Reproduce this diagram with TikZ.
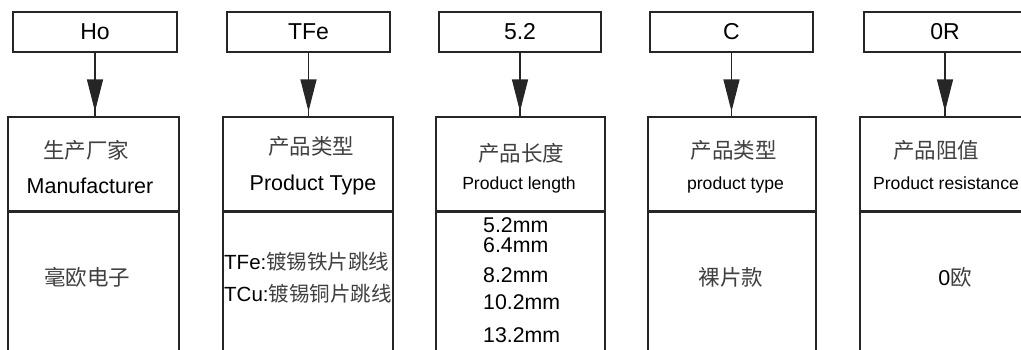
\documentclass[tikz,border=0pt]{standalone}
\usepackage{fontspec}
\setmainfont{Liberation Sans}
\newfontfamily\cjk{Noto Sans CJK SC}
\usetikzlibrary{arrows.meta}
\definecolor{linec}{HTML}{262626}
\definecolor{cjkc}{HTML}{404040}
\tikzset{
  box/.style={draw=linec, line width=1.1pt, rectangle, inner sep=0pt},
  topbox/.style={box, minimum height=40pt, font=\fontsize{23}{26}\selectfont},
  hdr/.style={box, minimum height=94pt},
  body/.style={box, minimum height=160pt, anchor=north},
  en/.style={font=\fontsize{21.5}{24}\selectfont, anchor=base, inner sep=0pt},
  ensm/.style={font=\fontsize{17.6}{20}\selectfont, anchor=base, inner sep=0pt},
  zh/.style={font=\cjk\fontsize{21.5}{24}\selectfont, text=cjkc, anchor=base, inner sep=0pt},
  mix/.style={font=\fontsize{20.5}{24}\selectfont, anchor=base west, inner sep=0pt},
  val/.style={font=\fontsize{21.3}{24}\selectfont, anchor=base west, inner sep=0pt},
  conn/.style={draw=linec, line width=1.1pt},
  arr/.style={conn, -{Triangle[length=32pt,width=16pt]}}
}
\newcommand{\zh}[1]{{\cjk\color{cjkc}#1}}
\begin{document}
\begin{tikzpicture}[x=1pt,y=-1pt]
\useasboundingbox (0,0) rectangle (1021,349);
\clip (0,0) rectangle (1021,349);
\fill[white] (0,0) rectangle (1021,349);
% top boxes
\node[topbox, minimum width=164pt] (t1) at (95,32) {Ho};
\node[topbox, minimum width=163pt] (t2) at (308.5,32) {TFe};
\node[topbox, minimum width=162pt] (t3) at (520,32) {5.2};
\node[topbox, minimum width=163pt] (t4) at (731.5,32) {C};
\node[topbox, minimum width=162pt] (t5) at (945,32) {0R};
% header boxes
\node[hdr, minimum width=171pt] (h1) at (93.5,164) {};
\node[hdr, minimum width=170pt] (h2) at (308,164) {};
\node[hdr, minimum width=169pt] (h3) at (520.5,164) {};
\node[hdr, minimum width=168pt] (h4) at (732,164) {};
\node[hdr, minimum width=171pt] (h5) at (945.5,164) {};
% body boxes
\node[body, minimum width=171pt] (b1) at (h1.south) {};
\node[body, minimum width=170pt] (b2) at (h2.south) {};
\node[body, minimum width=169pt] (b3) at (h3.south) {};
\node[body, minimum width=168pt] (b4) at (h4.south) {};
\node[body, minimum width=171pt] (b5) at (h5.south) {};
% connectors
\foreach \i in {1,...,5}{
  \draw[conn] (t\i.south) -- (t\i.south |- h\i.north);
  \draw[arr] (t\i.south) -- ([yshift=5pt]t\i.south |- h\i.north);
}
% column 1
\node[zh] (c1a) at (86,158) {生产厂家};
\node[en] (c1b) at (90,193.5) {Manufacturer};
\node[zh] (c1c) at (87.5,285) {毫欧电子};
% column 2
\node[zh] (c2a) at (311,154) {产品类型};
\node[en] (c2b) at (313,190) {Product Type};
\node[mix] (c2c) at (224,269) {TFe:\zh{镀锡铁片跳线}};
\node[mix] (c2d) at (224,301) {TCu:\zh{镀锡铜片跳线}};
% column 3
\node[zh] (c3a) at (521,161) {产品长度};
\node[ensm] (c3b) at (519,189) {Product length};
\node[val] (v1) at (483,232) {5.2mm};
\node[val] (v2) at (483,252) {6.4mm};
\node[val] (v3) at (483,282) {8.2mm};
\node[val] (v4) at (483,309.5) {10.2mm};
\node[val] (v5) at (483,342) {13.2mm};
% column 4
\node[zh] (c4a) at (733.5,158) {产品类型};
\node[ensm] (c4b) at (735.5,189) {product type};
\node[zh] (c4c) at (731,285) {裸片款};
% column 5
\node[zh] (c5a) at (936,158) {产品阻值};
\node[ensm] (c5b) at (946,189) {Product resistance};
\node[en] (c5c) at (955,285) {0\zh{欧}};
\end{tikzpicture}
\end{document}
